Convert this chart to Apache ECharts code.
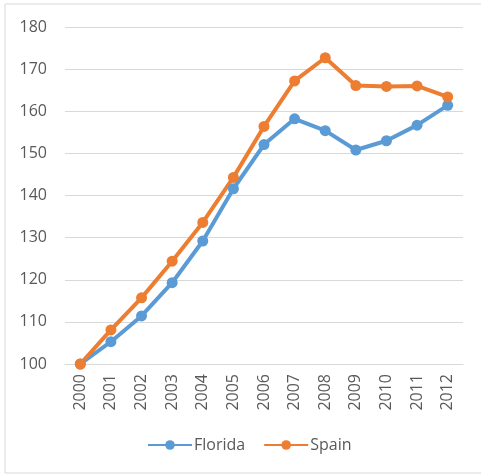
<!DOCTYPE html>
<html><head><meta charset="utf-8">
<script src="https://cdn.jsdelivr.net/npm/echarts@6/dist/echarts.min.js"></script>
<style>html,body{margin:0;padding:0;background:#fff}#c{width:481px;height:475px}</style>
</head><body><div id="c"></div>
<script>
const years = ['2000','2001','2002','2003','2004','2005','2006','2007','2008','2009','2010','2011','2012'];
const florida = [100,105.3,111.4,119.3,129.2,141.6,152.1,158.2,155.4,150.8,153.0,156.7,161.4];
const spain = [100,108.1,115.7,124.4,133.6,144.3,156.4,167.2,172.7,166.1,165.9,166.0,163.4];
const font = 'Open Sans';
const chart = echarts.init(document.getElementById('c'), null, {renderer:'canvas'});
chart.setOption({
  animation:false,
  backgroundColor:'#fff',
  graphic:[{type:'rect',shape:{x:5,y:4,width:520,height:469},style:{fill:'none',stroke:'#d9d9d9',lineWidth:1},silent:true}],
  grid:{left:65,right:18,top:27,bottom:111,containLabel:false},
  xAxis:{type:'category',data:years,boundaryGap:true,
    axisLine:{lineStyle:{color:'#d9d9d9',width:1}},axisTick:{show:false},
    axisLabel:{rotate:90,color:'#595959',fontFamily:font,fontSize:16,margin:10}},
  yAxis:{type:'value',min:100,max:180,interval:10,
    axisLine:{show:false},axisTick:{show:false},
    splitLine:{lineStyle:{color:'#d9d9d9',width:1}},
    axisLabel:{color:'#595959',fontFamily:font,fontSize:16,margin:18}},
  legend:{bottom:17,left:142,itemWidth:44,itemHeight:12,itemGap:18,
    textStyle:{color:'#595959',fontFamily:font,fontSize:16,padding:[0,0,0,-3]},
    data:['Florida','Spain']},
  series:[
    {name:'Florida',type:'line',data:florida,symbol:'circle',symbolSize:11,
     itemStyle:{color:'#5B9BD5'},lineStyle:{color:'#5B9BD5',width:4}},
    {name:'Spain',type:'line',data:spain,symbol:'circle',symbolSize:11,
     itemStyle:{color:'#ED7D31'},lineStyle:{color:'#ED7D31',width:4}}
  ]
});
</script></body></html>
